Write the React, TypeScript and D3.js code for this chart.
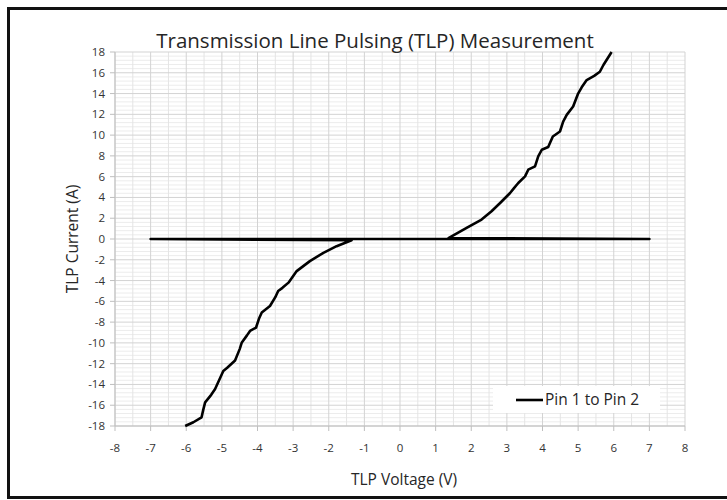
import React from 'react';
import * as d3 from 'd3';

// TLP sweep (V, A)
const negBranchV = [-6.03, -5.8, -5.57, -5.52, -5.47, -5.3, -5.19, -4.96, -4.85, -4.63, -4.5, -4.44, -4.3, -4.21, -4.04, -3.95, -3.88, -3.65, -3.5, -3.42, -3.3, -3.13, -2.9, -2.53, -2.15, -1.78, -1.36];
const negBranchI = [-18.0, -17.64, -17.16, -16.4, -15.72, -15.0, -14.44, -12.7, -12.4, -11.7, -10.6, -9.96, -9.3, -8.85, -8.52, -7.6, -7.08, -6.45, -5.6, -5.0, -4.7, -4.2, -3.09, -2.13, -1.33, -0.69, -0.12];
const baselineV = [-7, 7];
const baselineI = [0, 0];
const posBranchV = [1.36, 1.87, 2.29, 2.57, 2.81, 3.09, 3.2, 3.32, 3.51, 3.6, 3.79, 3.88, 3.98, 4.16, 4.29, 4.49, 4.58, 4.68, 4.86, 5.0, 5.1, 5.24, 5.45, 5.61, 5.71, 5.94];
const posBranchI = [0.08, 1.07, 1.87, 2.67, 3.47, 4.43, 4.9, 5.39, 6.03, 6.67, 6.99, 7.95, 8.59, 8.85, 9.87, 10.35, 11.3, 11.95, 12.75, 14.0, 14.6, 15.3, 15.7, 16.1, 16.75, 18.0];

const xTicks = d3.range(-8, 9, 1);
const yTicks = d3.range(-18, 19, 2);
const seriesName = 'Pin 1 to Pin 2';

const W = 727;
const H = 500;
const margin = { top: 52, right: 42, bottom: 74, left: 115 };
const FONT = '"Open Sans", Lato, sans-serif';

const App: React.FC = () => {
  const x = d3.scaleLinear().domain([-8, 8]).range([margin.left, W - margin.right]);
  const y = d3.scaleLinear().domain([-18, 18]).range([H - margin.bottom, margin.top]);

  // one continuous series: negative branch -> back along 0 A -> positive branch
  const pts: [number, number][] = [
    ...negBranchV.map((v, i) => [v, negBranchI[i]] as [number, number]),
    ...baselineV.map((v, i) => [v, baselineI[i]] as [number, number]),
    ...posBranchV.map((v, i) => [v, posBranchI[i]] as [number, number]),
  ];
  const line = d3.line<[number, number]>().x(d => x(d[0])).y(d => y(d[1]));

  const minorX = d3.range(-7.5, 8, 1);
  const minorY = d3.range(-18, 18.01, 0.4).filter(v => Math.abs(v / 2 - Math.round(v / 2)) > 0.01);

  const x0 = x(-8), x1 = x(8), yTop = y(18), yBot = y(-18);

  return (
    <svg width={W} height={H} style={{ display: 'block', position: 'absolute', left: 0, top: 0, background: '#fff', overflow: 'hidden' }}>
      {/* outer frame (right side is cropped off in the source) */}
      <path d={`M${W + 5},8.5 H8.5 V497.5 H${W + 5}`} fill="none" stroke="#111" strokeWidth={3} />

      {/* grid */}
      <g>
        {minorY.map((v, i) => (
          <line key={'my' + i} x1={x0} x2={x1} y1={y(v)} y2={y(v)} stroke="#ececec" strokeWidth={1} />
        ))}
        {minorX.map((v, i) => (
          <line key={'mx' + i} x1={x(v)} x2={x(v)} y1={yTop} y2={yBot} stroke="#e4e4e4" strokeWidth={1} />
        ))}
        {yTicks.map(v => (
          <line key={'gy' + v} x1={x0} x2={x1} y1={y(v)} y2={y(v)} stroke="#d3d3d3" strokeWidth={1} />
        ))}
        {xTicks.map(v => (
          <line key={'gx' + v} x1={x(v)} x2={x(v)} y1={yTop} y2={yBot} stroke="#d3d3d3" strokeWidth={1} />
        ))}
      </g>

      {/* axes */}
      <line x1={x0} x2={x0} y1={yTop} y2={yBot} stroke="#bfbfbf" />
      <line x1={x0} x2={x1} y1={yBot} y2={yBot} stroke="#bfbfbf" />
      {yTicks.map(v => (
        <g key={'ty' + v}>
          <line x1={x0 - 5} x2={x0} y1={y(v)} y2={y(v)} stroke="#bfbfbf" />
          <text x={x0 - 10} y={y(v)} dy="0.35em" textAnchor="end" fontFamily={FONT} fontSize={11.5} fill="#333">{v}</text>
        </g>
      ))}
      {xTicks.map(v => (
        <g key={'tx' + v}>
          <line x1={x(v)} x2={x(v)} y1={yBot} y2={yBot + 5} stroke="#bfbfbf" />
          <text x={x(v)} y={yBot + 26} textAnchor="middle" fontFamily={FONT} fontSize={11.5} fill="#333">{v}</text>
        </g>
      ))}

      {/* series */}
      <path d={line(pts) || ''} fill="none" stroke="#000" strokeWidth={2.6} strokeLinejoin="round" />

      {/* titles */}
      <text x={375} y={48} textAnchor="middle" fontFamily={FONT} fontSize={20.5} fill="#262626">Transmission Line Pulsing (TLP) Measurement</text>
      <text x={404} y={485} textAnchor="middle" fontFamily={FONT} fontSize={15.5} fill="#262626">TLP Voltage (V)</text>
      <text transform={`translate(78,${y(0)}) rotate(-90)`} textAnchor="middle" fontFamily={FONT} fontSize={15.5} fill="#262626">TLP Current (A)</text>

      {/* legend */}
      <rect x={493} y={386} width={167} height={27} fill="#fff" />
      <line x1={516} x2={543} y1={400} y2={400} stroke="#000" strokeWidth={2.6} />
      <text x={545} y={400} dy="0.35em" fontFamily={FONT} fontSize={15.5} fill="#262626">{seriesName}</text>
    </svg>
  );
};

export default App;
